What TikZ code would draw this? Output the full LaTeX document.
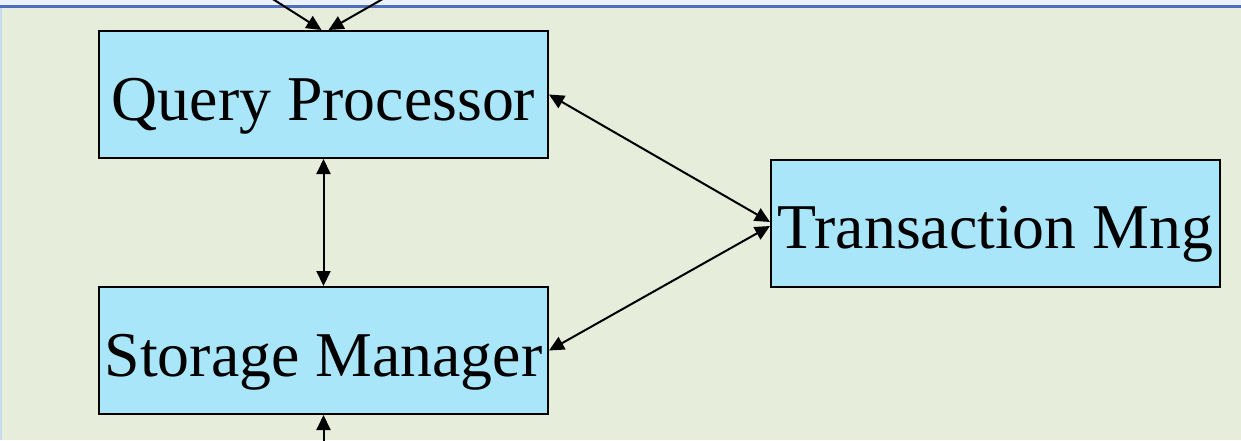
\documentclass[tikz,border=0pt]{standalone}
\usepackage{fontspec}
\setmainfont{Liberation Serif}
\usetikzlibrary{arrows.meta}
\definecolor{slidebg}{RGB}{230,237,219}
\definecolor{boxfill}{RGB}{170,230,250}
\definecolor{barblue}{RGB}{80,110,190}
\definecolor{barlight}{RGB}{234,243,252}
\definecolor{edgeblue}{RGB}{200,216,240}
\begin{document}
\begin{tikzpicture}[x=0.5pt, y=-0.5pt,
  module/.style={draw=black, line width=1pt, fill=boxfill, minimum width=224.5pt, inner sep=0pt, text height=44.5pt, text depth=19pt, font=\fontsize{31.9}{38}\selectfont},
  flow/.style={line width=1pt, -{Triangle[length=7.5pt, width=7pt]}},
  both/.style={flow, {Triangle[length=7.5pt, width=7pt]}-{Triangle[length=7.5pt, width=7pt]}}]
\useasboundingbox (0,0) rectangle (1241,440);
% slide background
\fill[slidebg] (0,0) rectangle (1241,440);
\fill[barlight] (0,0) rectangle (1241,5);
\fill[barblue] (0,5) rectangle (1241,7.5);
\fill[edgeblue] (0,7.5) rectangle (1.5,440);
\node[module] (qp) at (323.5,94.5) {Query Processor};
\node[module] (sm) at (323.5,350.5) {Storage Manager};
\node[module] (tm) at (995.5,223) {Transaction Mng};
\coordinate (in1) at (268,-4);
\coordinate (in2) at (388,-4);
\coordinate (out) at (323.5,450);
\draw[flow] (in1) -- ([xshift=-1pt]qp.north);
\draw[flow] (in2) -- ([xshift=2.5pt]qp.north);
\draw[both] (qp) -- (sm);
\draw[both] (qp.east) -- ([yshift=0.5pt]tm.west);
\draw[both] ([yshift=-1.5pt]tm.west) -- (sm.east);
\draw[flow] (out) -- (sm.south);
\end{tikzpicture}
\end{document}
